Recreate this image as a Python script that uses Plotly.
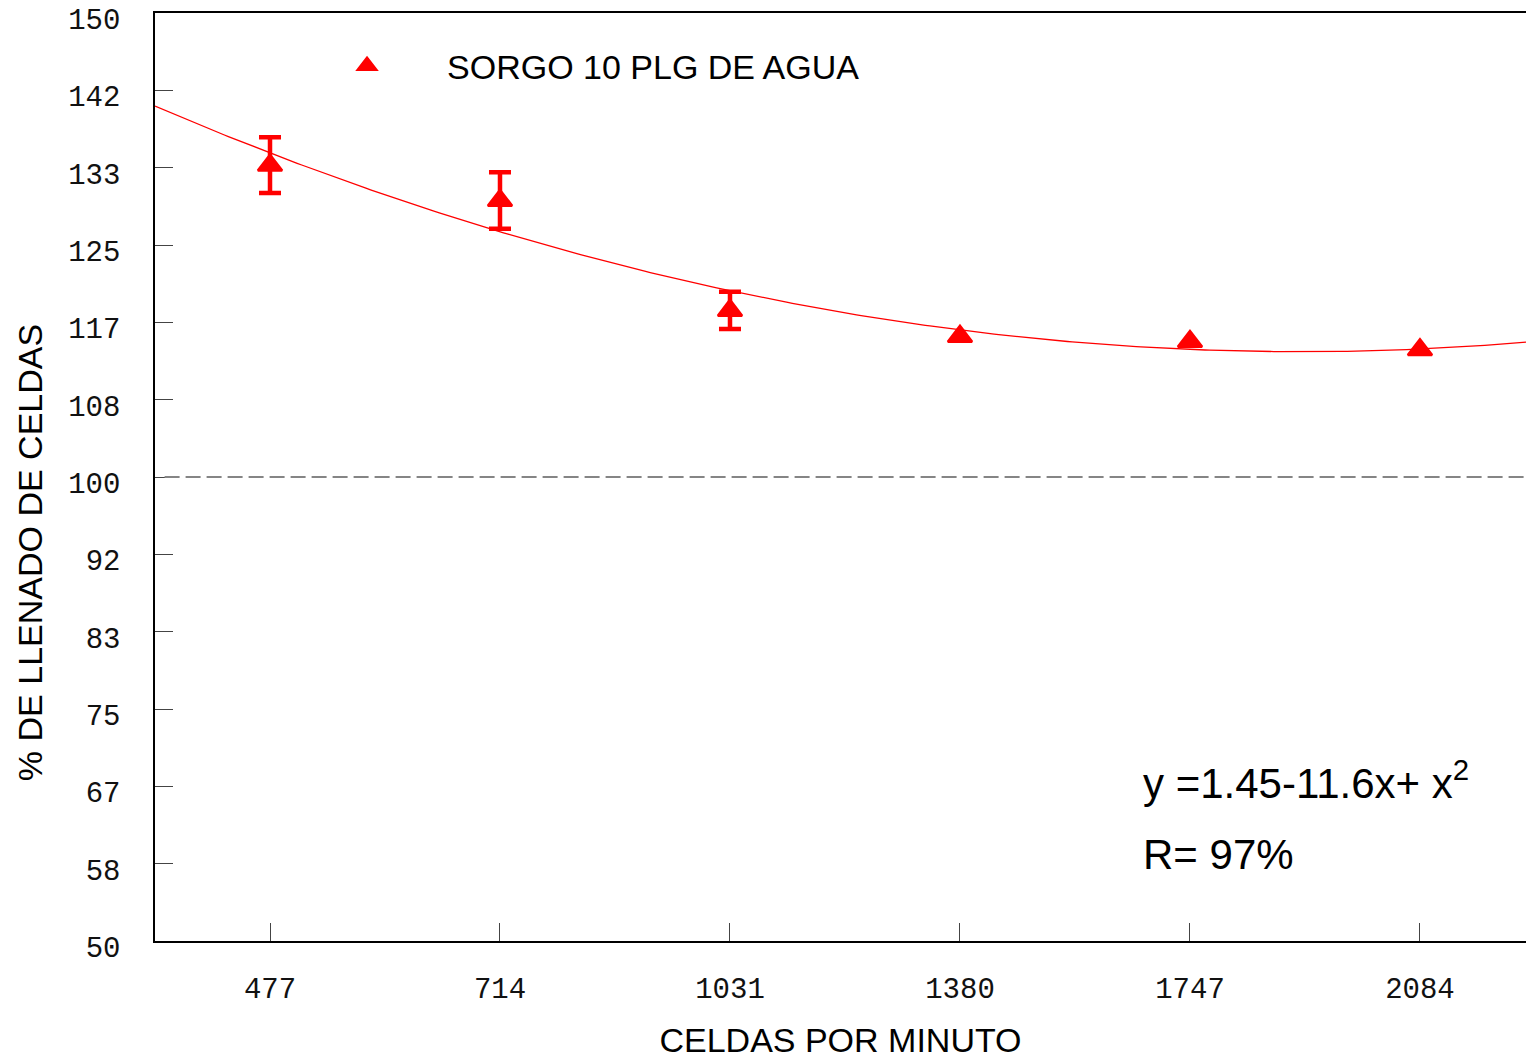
import numpy as np
import plotly.graph_objects as go

# Cell rate categories (cells per minute)
categories = ["477", "714", "1031", "1380", "1747", "2084"]
# Mean cell filling (%) and error half-widths (None = no bar)
fill_pct = [133.6, 129.8, 117.95, 115.15, 114.6, 113.7]
fill_err = [3.0, 3.05, 2.0, None, None, None]
series_name = "SORGO 10 PLG DE AGUA"

# Y axis tick labels (12 equal steps between 50 and 150)
y_tick_text = ["50", "58", "67", "75", "83", "92", "100",
               "108", "117", "125", "133", "142", "150"]
reference_level = 100

x_idx = np.arange(len(categories))
y_tick_vals = np.linspace(50, 150, len(y_tick_text))

# Points that carry an error bar
has_err = [i for i, e in enumerate(fill_err) if e is not None]
err_x = [x_idx[i] for i in has_err]
err_y = [fill_pct[i] for i in has_err]
err_v = [fill_err[i] for i in has_err]

# Second-order polynomial trend through the means
coef = np.polyfit(x_idx, fill_pct, 2)
x_fit = np.linspace(-0.5, 5.461, 300)
y_fit = np.polyval(coef, x_fit)

RED = "#ff0000"
mono = "Liberation Mono, Courier New, monospace"
sans = "Liberation Sans, Arial, sans-serif"

fig = go.Figure()

fig.add_trace(go.Scatter(
    x=x_fit, y=y_fit, mode="lines",
    line=dict(color=RED, width=1.3),
    showlegend=False, hoverinfo="skip",
))

# Error bars only (no visible markers)
fig.add_trace(go.Scatter(
    x=err_x, y=err_y, mode="markers",
    marker=dict(size=1, color="rgba(0,0,0,0)"),
    error_y=dict(type="data", array=err_v, visible=True,
                 color=RED, thickness=4.5, width=11),
    showlegend=False, hoverinfo="skip",
))

fig.add_trace(go.Scatter(
    x=x_idx, y=fill_pct, mode="markers", name=series_name,
    marker=dict(symbol="triangle-up", size=21, color=RED,
                line=dict(color=RED, width=2.5)),
))

fig.add_shape(
    type="line", xref="paper", yref="y",
    x0=0.007, x1=1, y0=reference_level, y1=reference_level,
    line=dict(color="#858585", width=2, dash="15px,6px"),
)

fig.add_annotation(
    xref="paper", yref="paper", x=0.7192, y=0.1735,
    xanchor="left", yanchor="middle", showarrow=False,
    text="y =1.45-11.6x+ x<sup>2</sup>",
    font=dict(family=sans, size=42, color="black"),
)
fig.add_annotation(
    xref="paper", yref="paper", x=0.7192, y=0.0937,
    xanchor="left", yanchor="middle", showarrow=False,
    text="R= 97%",
    font=dict(family=sans, size=42, color="black"),
)

# Y axis title
fig.add_annotation(
    xref="paper", yref="paper", x=-0.0912, y=0.419,
    xanchor="center", yanchor="middle", showarrow=False,
    text="% DE LLENADO DE CELDAS", textangle=-90,
    font=dict(family=sans, size=34, color="black"),
)

fig.update_layout(
    width=1526, height=1060,
    margin=dict(l=155, r=0, t=13, b=119),
    paper_bgcolor="white", plot_bgcolor="white",
    legend=dict(
        x=0.0963, y=0.974, xanchor="left", yanchor="top",
        bgcolor="rgba(0,0,0,0)", itemwidth=150,
        font=dict(family=sans, size=34, color="black"),
    ),
    xaxis=dict(
        range=[-0.5, 5.461], tickmode="array",
        tickvals=x_idx, ticktext=categories,
        showgrid=False, zeroline=False,
        showline=True, linecolor="black", linewidth=1.5, mirror=True,
        ticks="inside", ticklen=18, tickwidth=1, tickcolor="#444",
        ticklabelstandoff=20,
        tickfont=dict(family=mono, size=29, color="#111"),
        title=dict(text="CELDAS POR MINUTO", standoff=23,
                   font=dict(family=sans, size=34, color="black")),
    ),
    yaxis=dict(
        range=[50, 150], tickmode="array",
        tickvals=y_tick_vals, ticktext=y_tick_text,
        showgrid=False, zeroline=False,
        showline=True, linecolor="black", linewidth=1.5,
        ticks="inside", ticklen=18, tickwidth=1, tickcolor="#444",
        ticklabelstandoff=27, ticklabelshift=6,
        ticklabeloverflow="allow",
        tickfont=dict(family=mono, size=29, color="#111"),
    ),
)

fig.write_html("out.html")
